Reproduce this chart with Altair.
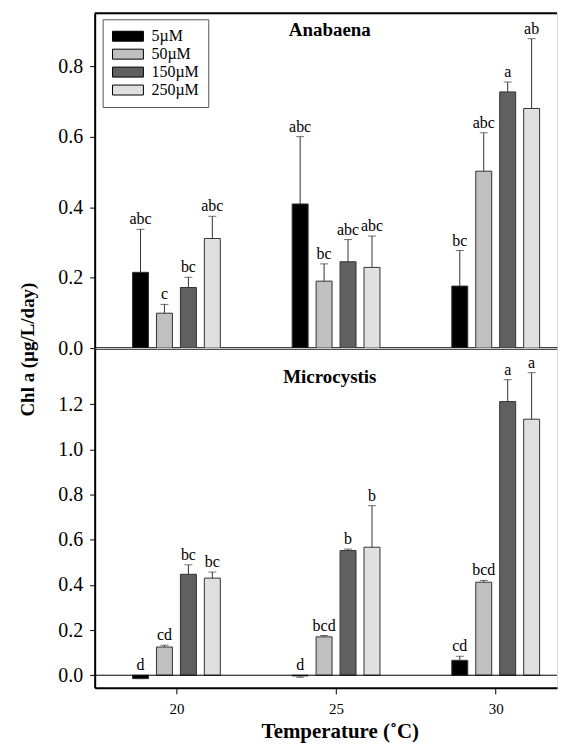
import altair as alt
import pandas as pd

temps = [20, 25, 30]
series = ["5µM", "50µM", "150µM", "250µM"]
colors = ["#000000", "#c0c0c0", "#606060", "#e0e0e0"]

# Anabaena (rows follow series order, columns follow temps)
ana_values = [
    [0.215, 0.409, 0.176],
    [0.099, 0.190, 0.502],
    [0.172, 0.245, 0.727],
    [0.311, 0.229, 0.680],
]
ana_err_end = [
    [0.337, 0.600, 0.277],
    [0.124, 0.239, 0.611],
    [0.201, 0.308, 0.755],
    [0.374, 0.318, 0.878],
]
ana_letters = [
    ["abc", "abc", "bc"],
    ["c", "bc", "abc"],
    ["bc", "abc", "a"],
    ["abc", "abc", "ab"],
]

# Microcystis
mic_values = [
    [-0.015, -0.003, 0.066],
    [0.125, 0.170, 0.412],
    [0.447, 0.552, 1.212],
    [0.430, 0.567, 1.134],
]
mic_err_end = [
    [-0.015, -0.009, 0.084],
    [0.133, 0.176, 0.420],
    [0.489, 0.559, 1.309],
    [0.457, 0.751, 1.340],
]
mic_letters = [
    ["d", "d", "cd"],
    ["cd", "bcd", "bcd"],
    ["bc", "b", "a"],
    ["bc", "b", "a"],
]

ana_ticks = [0.0, 0.2, 0.4, 0.6, 0.8]
mic_ticks = [0.0, 0.2, 0.4, 0.6, 0.8, 1.0, 1.2]

FONT = "Liberation Serif, Times New Roman, serif"
X_DOMAIN = [17.44, 31.92]
W = 464


def make_df(vals, errs, lets):
    rows = []
    for si, s in enumerate(series):
        for ti, t in enumerate(temps):
            rows.append(dict(temp=t, series=s, idx=si, value=vals[si][ti],
                             err=errs[si][ti], letter=lets[si][ti]))
    return pd.DataFrame(rows)


def panel(df, title, title_y, ydomain, yticks, height, bottom, legend):
    xscale = alt.Scale(domain=X_DOMAIN, nice=False, zero=False)
    yscale = alt.Scale(domain=ydomain, nice=False, zero=False)
    if bottom:
        xaxis = alt.Axis(values=temps, title="Temperature (˚C)", labelFontSize=15,
                         labelFont=FONT, tickSize=6, labelPadding=8, domainWidth=2,
                         domainColor="black", tickColor="black", labelColor="black",
                         titleFont=FONT, titleFontSize=21, titleFontWeight="bold",
                         titlePadding=4, titleColor="black", titleX=246,
                         titleAlign="center", grid=False)
        yaxis = alt.Axis(values=yticks, format=".1f", title=None, labelFontSize=20,
                         labelFont=FONT, tickSize=5, labelPadding=7, domainWidth=2,
                         domainColor="black", tickColor="black", labelColor="black",
                         grid=False)
    else:
        xaxis = alt.Axis(labels=False, ticks=False, title=None, domainWidth=2.5,
                         domainColor="black", grid=False)
        yaxis = alt.Axis(values=yticks, format=".1f", title="Chl a (µg/L/day)",
                         labelFontSize=20, labelFont=FONT, tickSize=5, labelPadding=7,
                         domainWidth=2, domainColor="black", tickColor="black",
                         labelColor="black", grid=False, titleFont=FONT,
                         titleFontSize=19, titleFontWeight="bold", titleColor="black",
                         titleAngle=-90, titleAlign="center", titleBaseline="middle",
                         titleX=-67, titleY=337)

    base = alt.Chart(df).transform_calculate(
        x0="datum.temp + (datum.idx - 1.5) * 0.75 - 0.25",
        x1="datum.temp + (datum.idx - 1.5) * 0.75 + 0.25",
        xc="datum.temp + (datum.idx - 1.5) * 0.75",
        ly="max(datum.err, 0)",
    )

    if legend:
        leg = alt.Legend(
            title=None, orient="none", legendX=8, legendY=6,
            symbolType="M-1.42,-1H4.78V1H-1.42Z", symbolSize=100,
            symbolStrokeColor="black", symbolStrokeWidth=1, symbolOpacity=1,
            labelFont=FONT, labelFontSize=16, labelColor="black", labelOffset=24,
            rowPadding=2, padding=9, strokeColor="#555555", fillColor="white",
        )
    else:
        leg = None

    bars = base.mark_bar(stroke="#333333", strokeWidth=1, opacity=1).encode(
        x=alt.X("x0:Q", scale=xscale, axis=xaxis),
        x2="x1:Q",
        y=alt.Y("value:Q", scale=yscale, axis=yaxis),
        y2=alt.datum(0),
        color=alt.Color("series:N", scale=alt.Scale(domain=series, range=colors),
                        legend=leg, sort=series),
    )
    stems = base.mark_rule(color="#333333", strokeWidth=1).encode(
        x="xc:Q", y="value:Q", y2="err:Q"
    )
    caps = base.mark_tick(orient="horizontal", size=8, thickness=1, color="#333333").encode(
        x="xc:Q", y="err:Q"
    )
    letters = base.mark_text(font=FONT, fontSize=16, baseline="alphabetic", dy=-5,
                             color="black").encode(
        x="xc:Q", y="ly:Q", text="letter:N"
    )

    layers = [bars, stems, caps, letters]
    edge = pd.DataFrame({"v": [ydomain[1]], "z": [0.0], "name": [title]})
    if bottom:
        zero = alt.Chart(edge).mark_rule(color="black", strokeWidth=1).encode(y="z:Q")
        layers.append(zero)
    else:
        topline = alt.Chart(edge).mark_rule(color="black", strokeWidth=2).encode(y="v:Q")
        layers.append(topline)

    name = alt.Chart(edge).mark_text(font=FONT, fontSize=19, fontWeight="bold",
                                     color="black", align="center",
                                     baseline="alphabetic").encode(
        x=alt.value(236), y=alt.value(title_y), text="name:N"
    )
    layers.append(name)

    return alt.layer(*layers).properties(width=W, height=height)


ana = make_df(ana_values, ana_err_end, ana_letters)
mic = make_df(mic_values, mic_err_end, mic_letters)

top = panel(ana, "Anabaena", 23, [0, 0.95], ana_ticks, 336, False, True)
bot = panel(mic, "Microcystis", 35.5, [-0.056, 1.449], mic_ticks, 341, True, False)

chart = alt.vconcat(top, bot, spacing=0, bounds="flush").resolve_legend(
    color="independent"
).properties(
    padding={"left": 10, "top": 2, "right": 0, "bottom": 0},
    background="white",
).configure_view(stroke=None).configure(font=FONT)

chart.save("out.html", embed_options={"renderer": "svg", "actions": False})
